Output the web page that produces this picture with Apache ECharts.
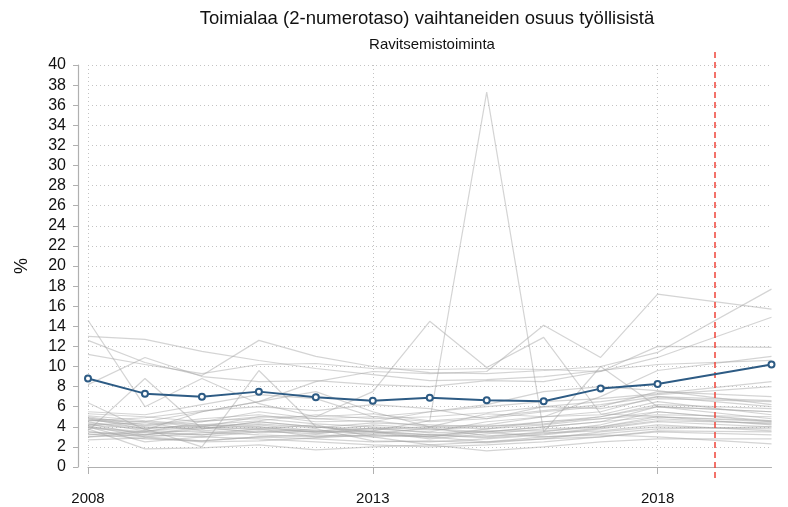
<!DOCTYPE html>
<html>
<head>
<meta charset="utf-8">
<script src="https://cdn.jsdelivr.net/npm/echarts@6/dist/echarts.min.js"></script>
<style>html,body{margin:0;padding:0;background:#fff}#c{width:788px;height:507px}</style>
</head>
<body>
<div id="c"></div>
<script>
// Years (2019 has no observation: lines are drawn straight from 2018 to 2020)
const years = ['2008','2009','2010','2011','2012','2013','2014','2015','2016','2017','2018','2019','2020'];
const markYear = '2019';
const titleText = 'Toimialaa (2-numerotaso) vaihtaneiden osuus työllisistä';
const subtitleText = 'Ravitsemistoiminta';
const yAxisName = '%';

// Highlighted industry
const highlight = [8.8, 7.3, 7.0, 7.5, 6.95, 6.6, 6.9, 6.65, 6.55, 7.8, 8.25, null, 10.2];

// Other industries (grey background lines)
const otherIndustries = [
  [14.6, 6.0, 8.8, 6.3, 5.0, 5.3, 4.6, 5.0, 5.6, 6.2, 7.0, null, 6.6],
  [13.0, 12.7, 11.5, 10.6, 9.8, 9.2, 8.6, 8.7, 9.0, 9.6, 10.2, null, 10.6],
  [12.6, 10.4, 9.1, 12.6, 11.0, 10.0, 9.4, 9.3, 9.6, 10.0, 11.4, null, 17.7],
  [11.2, 10.2, 9.3, 10.2, 10.3, 9.8, 9.7, 9.8, 9.7, 9.5, 12.0, null, 11.9],
  [8.2, 10.9, 9.0, 8.5, 8.6, 8.2, 8.0, 8.6, 8.5, 9.5, 10.9, null, 14.9],
  [6.4, 3.7, 5.5, 6.5, 7.5, 5.5, 4.0, 5.3, 5.0, 7.0, 9.6, null, 11.0],
  [3.6, 8.8, 3.8, 4.5, 4.0, 3.5, 3.2, 3.5, 4.0, 4.5, 5.0, null, 4.6],
  [3.5, 3.2, 4.0, 5.0, 5.0, 7.5, 14.5, 9.9, 12.9, 5.3, 5.0, null, 4.5],
  [4.8, 4.5, 5.5, 6.5, 8.5, 9.5, 9.3, 9.5, 14.1, 10.9, 17.2, null, 15.7],
  [3.0, 3.5, 3.2, 3.8, 3.5, 3.6, 4.6, 37.3, 3.5, 10.0, 6.0, null, 5.5],
  [4.2, 3.8, 2.0, 9.6, 4.0, 3.5, 3.0, 3.8, 4.5, 5.0, 6.0, null, 5.5],
  [4.0, 3.5, 4.5, 5.0, 4.8, 4.5, 5.5, 6.0, 6.5, 6.8, 7.3, null, 8.5],
  [5.3, 5.0, 4.5, 5.5, 4.8, 5.0, 4.5, 4.8, 5.5, 6.0, 7.5, null, 7.0],
  [5.0, 4.2, 4.8, 5.2, 4.5, 4.6, 4.0, 4.2, 5.0, 5.5, 7.0, null, 6.0],
  [4.9, 4.0, 3.8, 4.5, 4.0, 3.8, 3.5, 4.5, 5.0, 5.2, 6.5, null, 5.2],
  [4.8, 3.8, 4.2, 4.0, 3.5, 4.2, 3.8, 3.5, 4.0, 4.5, 6.0, null, 4.8],
  [4.6, 4.5, 4.0, 3.8, 4.2, 3.0, 3.2, 3.0, 3.5, 4.2, 5.5, null, 4.5],
  [4.5, 3.6, 3.5, 3.2, 3.0, 3.5, 2.8, 3.3, 3.8, 4.0, 5.0, null, 4.2],
  [4.3, 3.2, 3.0, 3.5, 3.8, 2.6, 2.5, 2.8, 3.2, 3.8, 4.5, null, 4.0],
  [4.1, 3.0, 2.6, 3.0, 3.2, 3.0, 2.2, 2.5, 2.8, 3.5, 4.0, null, 3.8],
  [4.0, 2.5, 3.0, 2.8, 2.5, 2.2, 2.0, 2.2, 2.5, 3.0, 3.5, null, 3.2],
  [3.8, 1.8, 1.9, 2.2, 1.7, 2.0, 2.2, 1.6, 2.0, 2.5, 2.8, null, 2.8],
  [3.5, 3.0, 3.4, 3.8, 3.0, 3.2, 3.0, 3.5, 3.0, 3.2, 3.0, null, 2.3],
  [3.3, 2.8, 2.6, 3.0, 2.8, 2.5, 2.6, 2.4, 2.8, 3.0, 3.6, null, 3.5],
  [3.0, 3.2, 3.8, 4.2, 3.6, 3.8, 4.0, 3.8, 4.2, 4.8, 5.2, null, 5.0],
  [2.7, 2.9, 2.5, 2.6, 2.9, 3.2, 3.0, 2.5, 3.0, 3.3, 3.8, null, 4.0],
  [4.4, 3.9, 4.1, 4.3, 3.9, 4.4, 4.2, 4.0, 4.5, 4.8, 5.5, null, 4.6],
  [4.7, 4.1, 4.6, 4.8, 4.3, 4.0, 3.7, 4.1, 4.3, 5.0, 6.2, null, 5.8],
  [3.9, 3.4, 3.2, 3.6, 3.3, 3.9, 3.4, 3.6, 3.6, 4.0, 4.8, null, 4.3],
  [5.1, 4.6, 4.2, 4.6, 5.2, 4.8, 5.0, 5.4, 6.0, 5.8, 6.8, null, 6.5],
  [3.2, 3.6, 4.0, 3.4, 3.6, 3.3, 3.9, 3.1, 3.4, 3.6, 4.2, null, 3.6],
  [4.2, 4.4, 3.6, 4.0, 3.4, 3.6, 3.2, 2.9, 3.3, 3.9, 4.6, null, 4.4],
  [5.5, 5.2, 6.2, 7.2, 6.8, 5.0, 5.5, 6.2, 7.5, 8.0, 7.6, null, 6.2],
  [4.6, 4.9, 5.6, 6.0, 5.6, 6.2, 5.8, 4.8, 6.0, 6.5, 7.2, null, 8.0]
];

const FONT = '"Liberation Sans", Arial, Helvetica, sans-serif';
const chart = echarts.init(document.getElementById('c'), null, {renderer: 'canvas'});

const series = otherIndustries.map((d, i) => ({
  type: 'line', xAxisIndex: 0, yAxisIndex: 0, name: 'muu ' + (i + 1),
  data: d, connectNulls: true, symbol: 'none', silent: true,
  lineStyle: {color: 'rgba(165,165,165,0.48)', width: 1.2}, z: 2
}));
series.push({
  type: 'line', xAxisIndex: 0, yAxisIndex: 0, name: subtitleText,
  data: highlight, connectNulls: true, symbol: 'emptyCircle', symbolSize: 6, showAllSymbol: true,
  lineStyle: {color: '#2d5b84', width: 2}, itemStyle: {color: '#2d5b84', borderWidth: 1.6}, z: 5
});
series.push({
  type: 'line', xAxisIndex: 1, yAxisIndex: 1, data: years.map(() => null), symbol: 'none', silent: true,
  markLine: {
    silent: true, symbol: ['none', 'none'], label: {show: false},
    lineStyle: {color: '#f0443a', type: [6, 4], width: 1.5},
    data: [{xAxis: markYear}]
  }, z: 4
});

chart.setOption({
  animation: false,
  backgroundColor: '#fff',
  title: [
    {text: titleText, left: 422, top: 4, textAlign: 'center',
     textStyle: {fontFamily: FONT, fontSize: 18.5, fontWeight: 'normal', color: '#111'}},
    {text: subtitleText, left: 427, top: 32, textAlign: 'center',
     textStyle: {fontFamily: FONT, fontSize: 15, fontWeight: 'normal', color: '#111'}}
  ],
  grid: [
    {left: 88, right: 16.5, top: 65, bottom: 40, containLabel: false},
    {left: 88, right: 16.5, top: 50, bottom: 29, containLabel: false}
  ],
  xAxis: [
    {type: 'category', gridIndex: 0, data: years, boundaryGap: false, offset: 11,
     axisLine: {lineStyle: {color: '#b0b0b0', width: 1.2}},
     axisTick: {interval: 4, length: 7, lineStyle: {color: '#b0b0b0'}},
     axisLabel: {interval: 4, margin: 13, color: '#111', fontSize: 15, fontFamily: FONT},
     splitLine: {show: true, interval: 4, lineStyle: {color: '#c4c4c4', type: [1, 3], width: 1}}},
    {type: 'category', gridIndex: 1, data: years, boundaryGap: false, show: false}
  ],
  yAxis: [
    {type: 'value', gridIndex: 0, min: 0, max: 40, interval: 2, offset: 10,
     name: yAxisName, nameLocation: 'middle', nameRotate: 90, nameGap: 47,
     nameTextStyle: {fontFamily: FONT, fontSize: 18, color: '#111'},
     axisLine: {show: true, lineStyle: {color: '#b0b0b0', width: 1.2}},
     axisTick: {show: true, length: 5, lineStyle: {color: '#b0b0b0'}},
     axisLabel: {margin: 12, color: '#111', fontSize: 16, fontFamily: FONT},
     splitLine: {show: true, lineStyle: {color: '#c4c4c4', type: [1, 3], width: 1}}},
    {type: 'value', gridIndex: 1, min: 0, max: 1, show: false, splitLine: {show: false}}
  ],
  series: series
});
</script>
</body>
</html>
